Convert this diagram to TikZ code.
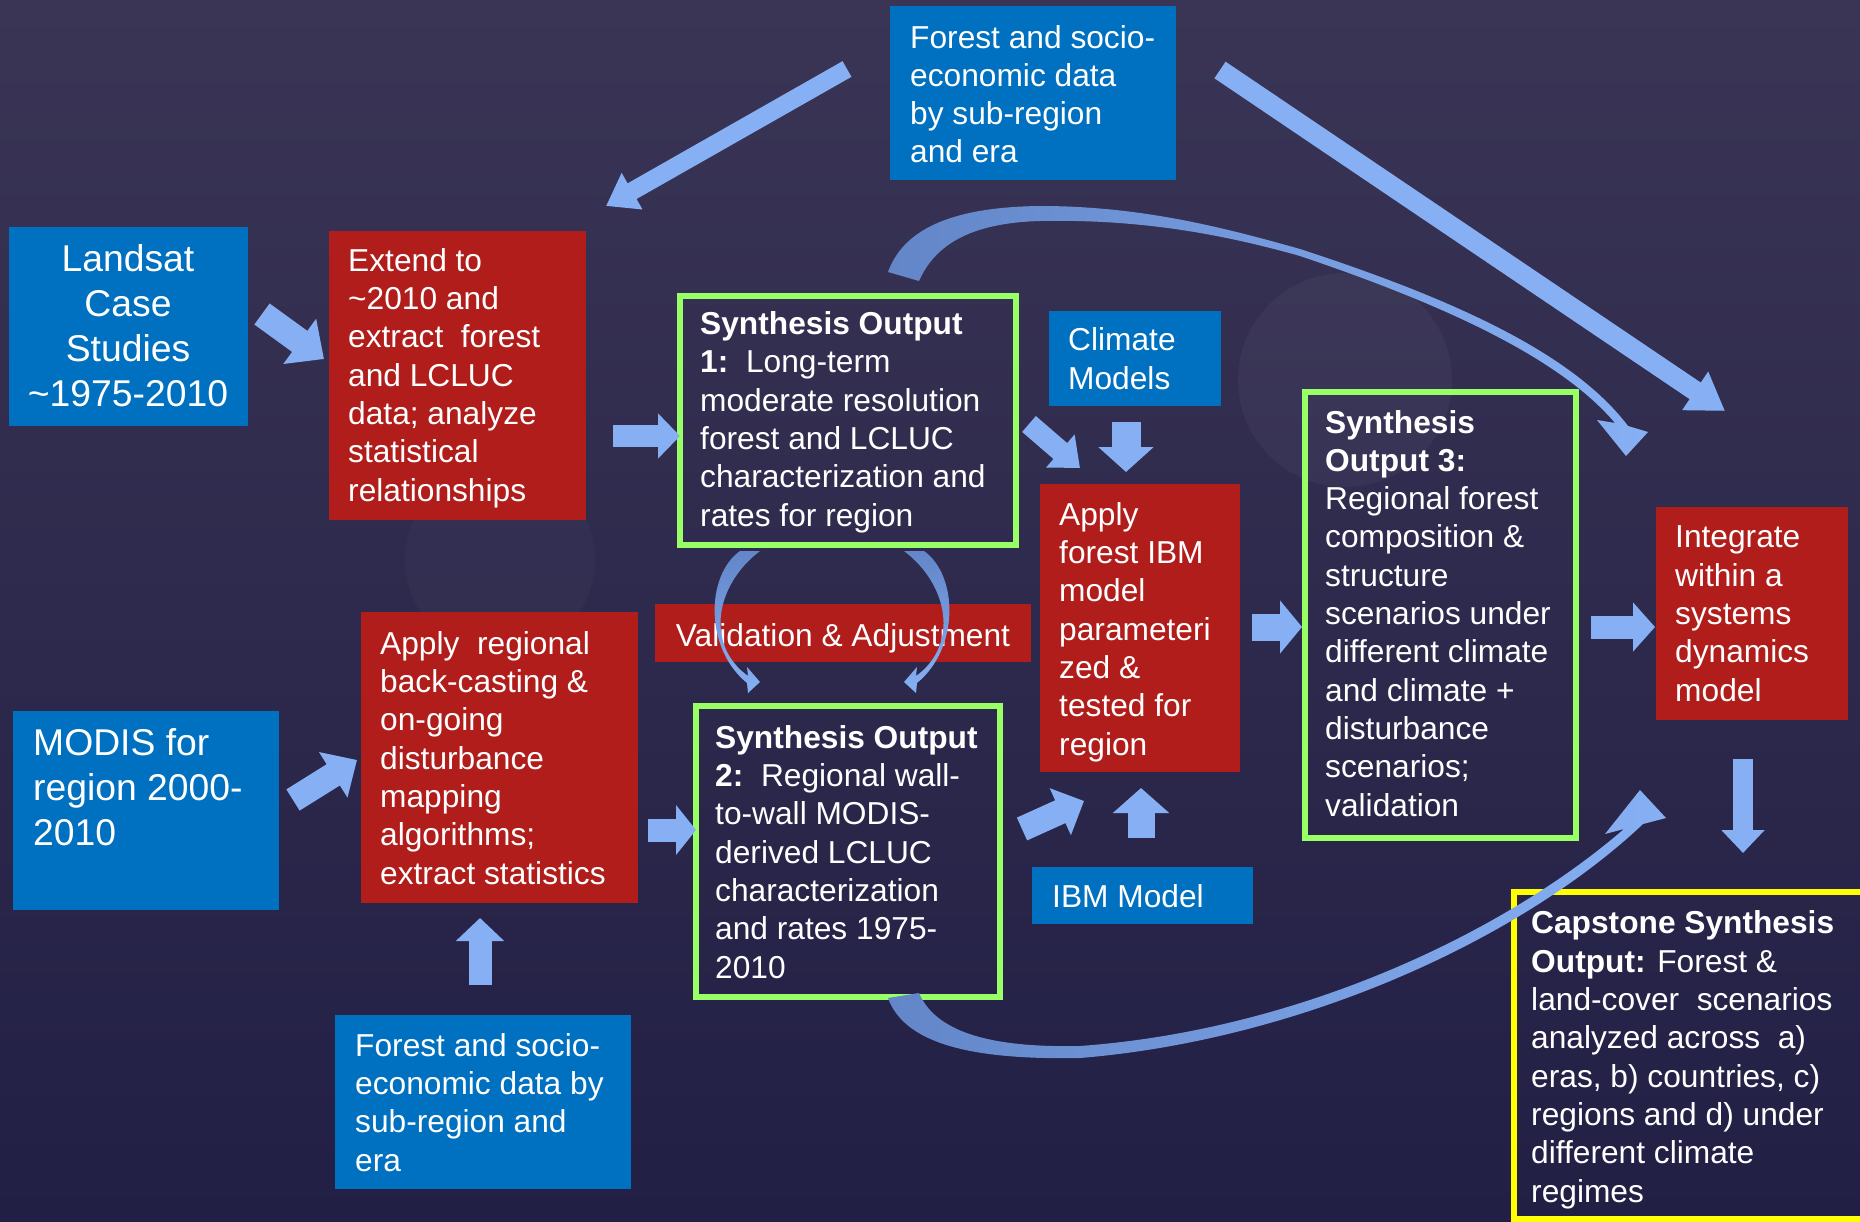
\documentclass[tikz,border=0pt]{standalone}
\usepackage{fontspec}
\setmainfont{Liberation Sans}
\usetikzlibrary{arrows.meta}
\definecolor{bgtop}{RGB}{58,53,85}
\definecolor{bgbot}{RGB}{34,31,69}
\definecolor{boxblue}{RGB}{0,112,192}
\definecolor{boxred}{RGB}{176,29,26}
\definecolor{gborder}{RGB}{153,255,102}
\definecolor{yborder}{RGB}{255,255,0}
\definecolor{arrowc}{RGB}{135,176,244}
\definecolor{curvedark}{RGB}{98,134,200}
\begin{document}
\begin{tikzpicture}[x=1pt,y=-1pt,
  boxbase/.style={inner sep=0pt,outer sep=0pt,anchor=north west},
  bluebox/.style={boxbase,fill=boxblue},
  redbox/.style={boxbase,fill=boxred},
  greenbox/.style={boxbase,draw=gborder,line width=6pt},
  yellowbox/.style={boxbase,draw=yborder,line width=6pt},
  txt/.style={inner sep=0pt,anchor=base west,align=left,text=white,
    font=\fontsize{31.7}{38.3}\selectfont},
  bigtxt/.style={txt,font=\fontsize{37.3}{44.7}\selectfont},
  blk/.style={draw=arrowc,line cap=butt},
]
\useasboundingbox (0,0) rectangle (1860,1222);
\shade[top color=bgtop,bottom color=bgbot] (0,0) rectangle (1860,1222);
\fill[white,opacity=0.035] (1345,380) circle[radius=107];
\fill[white,opacity=0.025] (500,560) circle[radius=95];

% ---------- boxes ----------
\node[bluebox,minimum width=286,minimum height=174] (topbox) at (890,6) {};
\node[bluebox,minimum width=239,minimum height=199] (landsat) at (9,227) {};
\node[redbox,minimum width=257,minimum height=289] (extend) at (329,231) {};
\node[greenbox,minimum width=336,minimum height=249] (so1) at (680,296) {};
\node[bluebox,minimum width=172,minimum height=95] (climate) at (1049,311) {};
\node[redbox,minimum width=200,minimum height=288] (applyibm) at (1040,484) {};
\node[greenbox,minimum width=271,minimum height=446] (so3) at (1305,392) {};
\node[redbox,minimum width=192,minimum height=213] (integrate) at (1656,507) {};
\node[yellowbox,minimum width=370,minimum height=327] (capstone) at (1514,892) {};
\node[redbox,minimum width=376,minimum height=58] (valid) at (655,604) {};
\node[redbox,minimum width=277,minimum height=291] (applyreg) at (361,612) {};
\node[bluebox,minimum width=266,minimum height=199] (modis) at (13,711) {};
\node[bluebox,minimum width=296,minimum height=174] (bottombox) at (335,1015) {};
\node[bluebox,minimum width=221,minimum height=57] (ibmmodel) at (1032,867) {};
\node[greenbox,minimum width=304,minimum height=291] (so2) at (696,706) {};

% ---------- texts (anchor = baseline of last line) ----------
\node[txt] (ttop) at (910,163) {Forest and socio-\\economic data\\by sub-region\\and era};
\node[bigtxt,anchor=base,align=center] (tlandsat) at (128,406) {Landsat\\Case\\Studies\\\textasciitilde1975-2010};
\node[txt] (textend) at (348,501) {Extend to\\\textasciitilde2010 and\\extract\ \ forest\\and LCLUC\\data; analyze\\statistical\\relationships};
\node[txt] (tso1) at (700,526) {\textbf{Synthesis Output}\\\textbf{1:}\ \ Long-term\\moderate resolution\\forest and LCLUC\\characterization and\\rates for region};
\node[txt] (tclimate) at (1068,389) {Climate\\Models};
\node[txt] (tapplyibm) at (1059,755) {Apply\\forest IBM\\model\\parameteri\\zed \&\\tested for\\region};
\node[txt] (tso3) at (1325,816) {\textbf{Synthesis}\\\textbf{Output 3:}\\Regional forest\\composition \&\\structure\\scenarios under\\different climate\\and climate +\\disturbance\\scenarios;\\validation};
\node[txt] (tintegrate) at (1675,701) {Integrate\\within a\\systems\\dynamics\\model};
\node[txt,anchor=base] (tvalid) at (843,646) {Validation \& Adjustment};
\node[txt] (tapplyreg) at (380,884) {Apply\ \ regional\\back-casting \&\\on-going\\disturbance\\mapping\\algorithms;\\extract statistics};
\node[txt] (tso2) at (715,978) {\textbf{Synthesis Output}\\\textbf{2:}\ \ Regional wall-\\to-wall MODIS-\\derived LCLUC\\characterization\\and rates 1975-\\2010};
\node[bigtxt] (tmodis) at (33,845) {MODIS for\\region 2000-\\2010};
\node[txt] (tbottom) at (355,1171) {Forest and socio-\\economic data by\\sub-region and\\era};
\node[txt] (tibm) at (1052,907) {IBM Model};
\node[txt] (tcap) at (1531,1202) {\textbf{Capstone Synthesis}\\\textbf{Output:} Forest \&\\land-cover\ \ scenarios\\analyzed across\ \ a)\\eras, b) countries, c)\\regions and d) under\\different climate\\regimes};

% ---------- block arrows ----------
\coordinate (a1s) at (847,69);   \coordinate (a1e) at (606,206);
\coordinate (a2s) at (1220,70);  \coordinate (a2e) at (1725,411);
\coordinate (a3s) at (262,314);  \coordinate (a3e) at (324,359);
\coordinate (a4s) at (613,436);  \coordinate (a4e) at (680,436);
\coordinate (a5s) at (293,800);  \coordinate (a5e) at (357,760);
\coordinate (a6s) at (648,830);  \coordinate (a6e) at (696,830);
\coordinate (a7s) at (480,985);  \coordinate (a7e) at (480,918);
\coordinate (a8s) at (1029,424); \coordinate (a8e) at (1080,468);
\coordinate (a9s) at (1126,422); \coordinate (a9e) at (1126,472);
\coordinate (a10s) at (1022,829); \coordinate (a10e) at (1084,801);
\coordinate (a11s) at (1141,838); \coordinate (a11e) at (1141,788);
\coordinate (a12s) at (1252,627); \coordinate (a12e) at (1302,627);
\coordinate (a13s) at (1591,627); \coordinate (a13e) at (1655,627);
\coordinate (a14s) at (1743,759); \coordinate (a14e) at (1743,853);

\draw[blk,line width=18pt,-{Triangle[length=30pt,width=40pt]}] (a1s) -- (a1e);
\draw[blk,line width=20pt,-{Triangle[length=36pt,width=44pt]}] (a2s) -- (a2e);
\draw[blk,line width=26pt,-{Triangle[length=30pt,width=54pt]}] (a3s) -- (a3e);
\draw[blk,line width=22pt,-{Triangle[length=22pt,width=44pt]}] (a4s) -- (a4e);
\draw[blk,line width=25pt,-{Triangle[length=28pt,width=52pt]}] (a5s) -- (a5e);
\draw[blk,line width=23pt,-{Triangle[length=20pt,width=49pt]}] (a6s) -- (a6e);
\draw[blk,line width=23pt,-{Triangle[length=23pt,width=47pt]}] (a7s) -- (a7e);
\draw[blk,line width=21pt,-{Triangle[length=26pt,width=42pt]}] (a8s) -- (a8e);
\draw[blk,line width=29pt,-{Triangle[length=25pt,width=54pt]}] (a9s) -- (a9e);
\draw[blk,line width=25pt,-{Triangle[length=26pt,width=50pt]}] (a10s) -- (a10e);
\draw[blk,line width=27pt,-{Triangle[length=25pt,width=55pt]}] (a11s) -- (a11e);
\draw[blk,line width=27pt,-{Triangle[length=22pt,width=52pt]}] (a12s) -- (a12e);
\draw[blk,line width=23pt,-{Triangle[length=22pt,width=48pt]}] (a13s) -- (a13e);
\draw[blk,line width=20pt,-{Triangle[length=23pt,width=42pt]}] (a14s) -- (a14e);

% ---------- curved tapered arrows ----------
\shade[left color=curvedark,right color=arrowc]
  (888,272) .. controls (905,225) and (960,207) .. (1040,206)
  .. controls (1140,206) and (1222,227) .. (1300,249)
  .. controls (1450,298) and (1572,352) .. (1628,426)
  -- (1648,432) -- (1626,456) -- (1597,420) -- (1615,423)
  .. controls (1560,358) and (1445,305) .. (1300,256)
  .. controls (1222,234) and (1140,219) .. (1040,221)
  .. controls (970,223) and (935,245) .. (919,281) -- cycle;

\shade[left color=curvedark,right color=arrowc]
  (888,998) .. controls (905,1045) and (975,1060) .. (1080,1058)
  .. controls (1300,1040) and (1520,940) .. (1643,824)
  -- (1666,818) -- (1640,790) -- (1605,834) -- (1624,829)
  .. controls (1505,932) and (1300,1030) .. (1080,1046)
  .. controls (985,1048) and (935,1030) .. (919,993) -- cycle;

\shade[top color=curvedark,bottom color=arrowc]
  (760,551) .. controls (715,585) and (705,645) .. (748,676)
  -- (747,667) -- (760,682) -- (748,693) -- (747,683)
  .. controls (704,648) and (706,575) .. (740,551) -- cycle;

\shade[top color=curvedark,bottom color=arrowc]
  (904,551) .. controls (949,585) and (959,645) .. (916,676)
  -- (917,667) -- (904,682) -- (916,693) -- (917,683)
  .. controls (960,648) and (958,575) .. (924,551) -- cycle;
\end{tikzpicture}
\end{document}
